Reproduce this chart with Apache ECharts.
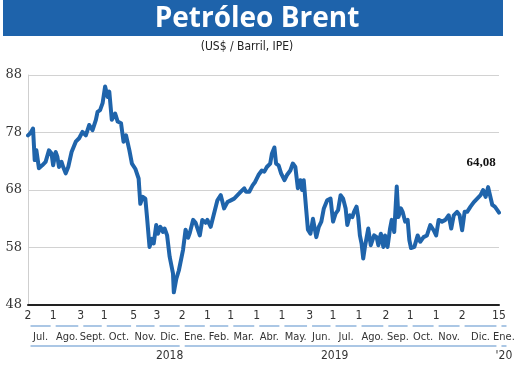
<!DOCTYPE html>
<html>
<head>
<meta charset="utf-8">
<script src="https://cdn.jsdelivr.net/npm/echarts@6/dist/echarts.min.js"></script>
<style>
html,body{margin:0;padding:0;background:#fff;}
#c{width:520px;height:365px;}
</style>
</head>
<body>
<div id="c"></div>
<script>
// ---------------- DATA ----------------
const dates = [
'2018-07-02','2018-07-05','2018-07-08','2018-07-10','2018-07-12','2018-07-15','2018-07-19','2018-07-23','2018-07-27','2018-07-30',
'2018-08-01','2018-08-04','2018-08-06','2018-08-08','2018-08-11','2018-08-13','2018-08-16','2018-08-19','2018-08-23','2018-08-28',
'2018-09-01','2018-09-05','2018-09-09','2018-09-13','2018-09-17','2018-09-21','2018-09-23','2018-09-26','2018-09-29','2018-10-02',
'2018-10-05','2018-10-07','2018-10-10','2018-10-14','2018-10-17','2018-10-21','2018-10-24','2018-10-27','2018-10-31','2018-11-03',
'2018-11-07','2018-11-11','2018-11-13','2018-11-16','2018-11-19','2018-11-21','2018-11-24','2018-11-27','2018-11-29','2018-12-02',
'2018-12-04','2018-12-07','2018-12-10','2018-12-12','2018-12-15','2018-12-18','2018-12-22','2018-12-23','2018-12-26','2018-12-29',
'2019-01-03','2019-01-06','2019-01-09','2019-01-11','2019-01-15','2019-01-18','2019-01-23','2019-01-26','2019-01-30','2019-02-01',
'2019-02-05','2019-02-09','2019-02-13','2019-02-17','2019-02-21','2019-02-25','2019-03-01','2019-03-05','2019-03-09','2019-03-13',
'2019-03-17','2019-03-19','2019-03-23','2019-03-27','2019-03-30','2019-04-03','2019-04-07','2019-04-10','2019-04-13','2019-04-17',
'2019-04-19','2019-04-22','2019-04-24','2019-04-27','2019-04-30','2019-05-04','2019-05-07','2019-05-11','2019-05-14','2019-05-17',
'2019-05-20','2019-05-23','2019-05-25','2019-05-27','2019-05-30','2019-06-01','2019-06-04','2019-06-07','2019-06-11','2019-06-14',
'2019-06-17','2019-06-20','2019-06-24','2019-06-28','2019-07-01','2019-07-04','2019-07-07','2019-07-10','2019-07-13','2019-07-16',
'2019-07-18','2019-07-21','2019-07-24','2019-07-26','2019-07-29','2019-07-31','2019-08-02','2019-08-04','2019-08-06','2019-08-08',
'2019-08-12','2019-08-15','2019-08-19','2019-08-22','2019-08-24','2019-08-27','2019-08-30','2019-09-01','2019-09-04','2019-09-07',
'2019-09-09','2019-09-12','2019-09-13','2019-09-15','2019-09-17','2019-09-20','2019-09-22','2019-09-25','2019-09-28','2019-09-30',
'2019-10-02','2019-10-06','2019-10-10','2019-10-13','2019-10-17','2019-10-21','2019-10-25','2019-10-29','2019-11-01','2019-11-04',
'2019-11-08','2019-11-12','2019-11-16','2019-11-19','2019-11-22','2019-11-26','2019-11-29','2019-12-02','2019-12-05','2019-12-08',
'2019-12-12','2019-12-16','2019-12-20','2019-12-24','2019-12-27','2019-12-29','2019-12-30','2020-01-02','2020-01-04','2020-01-07',
'2020-01-10','2020-01-13','2020-01-15'
];
const brent = [
77.5,77.9,78.7,73.2,74.9,71.8,72.3,72.9,74.9,74.4,
72.3,74.6,73.8,72.0,72.9,72.0,70.9,72.0,74.6,76.4,
77.0,78.1,77.5,79.3,78.4,80.2,81.6,81.9,83.1,86.0,
84.2,85.1,80.2,81.3,79.9,79.6,76.4,77.5,74.9,72.6,
71.7,70.0,65.6,66.8,66.5,63.3,58.1,59.5,58.7,61.9,
60.4,61.6,60.7,61.3,60.1,56.4,53.5,50.2,52.6,54.0,
57.6,61.1,59.7,60.5,62.8,62.3,60.1,62.8,62.3,62.8,
61.6,63.9,66.2,67.1,64.8,65.9,66.2,66.5,67.1,67.7,
68.3,67.7,67.7,68.8,69.4,70.6,71.4,71.2,72.0,72.6,
74.3,75.4,72.6,72.3,70.9,69.7,70.6,71.4,72.6,72.0,
68.3,69.7,68.0,69.7,64.5,61.1,60.4,63.0,59.8,61.6,
62.5,64.8,66.2,66.5,62.5,63.9,64.5,67.1,66.5,64.8,
61.9,63.6,63.3,64.2,65.1,63.3,60.1,58.7,56.1,58.1,
61.3,58.4,60.1,59.8,58.4,60.4,58.1,60.1,58.1,61.3,
62.8,60.7,60.4,68.6,63.3,64.8,64.2,62.5,62.8,59.3,
57.9,58.1,60.1,59.0,59.8,60.1,61.9,61.0,60.1,62.8,
62.5,62.8,63.6,61.3,63.6,64.2,63.6,61.0,64.2,64.2,
65.1,65.9,66.5,67.1,68.0,68.3,66.8,68.5,68.8,65.4,
65.1,64.5,64.08
];
const yTicks = [48, 58, 68, 78, 88];
const dayTickDates = ['2018-07-02','2018-08-01','2018-09-03','2018-10-01','2018-11-05','2018-12-03','2019-01-02','2019-02-01','2019-03-01','2019-04-01','2019-05-01','2019-06-03','2019-07-01','2019-08-01','2019-09-02','2019-10-01','2019-11-01','2019-12-02','2020-01-15'];
const dayTickLabels = ['2','1','3','1','5','3','2','1','1','1','1','3','1','1','2','1','1','2','15'];
const monthNames = ['Jul.','Ago.','Sept.','Oct.','Nov.','Dic.','Ene.','Feb.','Mar.','Abr.','May.','Jun.','Jul.','Ago.','Sep.','Oct.','Nov.','Dic.','Ene.'];
const labelAxisEnd = '2020-01-27';
const yearNames = ['2018', '2019', "'20"];
const yearLabelDates = ['2018-12-18', '2019-07-03', '2020-01-21'];
const yearBounds = ['2018-07-02', '2019-01-02', '2020-01-15', '2020-01-27'];

// ---------------- LAYOUT ----------------
const P = s => echarts.number.parseDate(s).getTime();
const DAY = 86400000;
const GAP = 3 * DAY;
const ROW_DAY = 11, ROW_DASH = 21, ROW_MONTH = 32, ROW_YLINE = 41, ROW_YEAR = 51;
const BLUE = '#1f64ab';
const DASH = '#8fb5dc';
const narrow = '"Liberation Sans Narrow","DejaVu Sans Condensed","Open Sans",sans-serif';

const bounds = dayTickDates.concat([labelAxisEnd]);
const monthSegs = monthNames.map((m, i) => ({coords: [[P(bounds[i]) + GAP, ROW_DASH], [P(bounds[i + 1]) - GAP, ROW_DASH]]}));
const yearSegs = yearNames.map((y, i) => ({coords: [[P(yearBounds[i]) + GAP, ROW_YLINE], [P(yearBounds[i + 1]) - GAP, ROW_YLINE]]}));

const dayLabelPos = dayTickDates.map(d => [P(d), ROW_DAY]);
const monthLabelPos = monthNames.map((m, i) => [(P(bounds[i]) + P(bounds[i + 1])) / 2, ROW_MONTH]);
const yearLabelPos = yearNames.map((y, i) => [P(yearLabelDates[i]), ROW_YEAR]);

const last = brent.length - 1;
const lastLabel = brent[last].toFixed(2).replace('.', ',');

const chart = echarts.init(document.getElementById('c'), null, {renderer: 'canvas'});

const textSeries = (pos, texts, size) => ({
  type: 'custom', xAxisIndex: 1, yAxisIndex: 1, silent: true, clip: false,
  data: pos,
  renderItem: (params, api) => {
    const pt = api.coord([api.value(0), api.value(1)]);
    return {
      type: 'text', x: pt[0], y: pt[1],
      style: {text: texts[params.dataIndex], fill: '#333', font: size + 'px ' + narrow,
              align: 'center', verticalAlign: 'middle', textAlign: 'center', textVerticalAlign: 'middle'}
    };
  }
});
const segLines = (data) => ({
  type: 'lines', coordinateSystem: 'cartesian2d', xAxisIndex: 1, yAxisIndex: 1, silent: true,
  data: data, lineStyle: {color: DASH, width: 1.5, opacity: 1}, symbol: 'none'
});

chart.setOption({
  animation: false,
  backgroundColor: '#fff',
  graphic: [
    {type: 'rect', left: 3, top: 0, shape: {width: 500, height: 36}, style: {fill: '#1e63ab'}, silent: true},
    {type: 'text', x: 257, y: 19, style: {text: 'Petróleo Brent', fill: '#fff', font: 'bold 28px "Open Sans", "Noto Sans", sans-serif', textAlign: 'center', textVerticalAlign: 'middle', align: 'center', verticalAlign: 'middle'}},
    {type: 'text', x: 247, y: 47, style: {text: '(US$ / Barril, IPE)', fill: '#222', font: '12px ' + narrow, textAlign: 'center', textVerticalAlign: 'middle', align: 'center', verticalAlign: 'middle'}}
  ],
  grid: [
    {left: 28, right: 21, top: 75, bottom: 60},
    {left: 28, right: 11, top: 305, height: 60}
  ],
  xAxis: [
    {type: 'time', gridIndex: 0, min: P(dates[0]), max: P(dates[last]),
     axisLine: {show: true, onZero: false, lineStyle: {color: '#222', width: 2}},
     axisTick: {show: false}, axisLabel: {show: false}, splitLine: {show: false}},
    {type: 'time', gridIndex: 1, min: P(dates[0]), max: P(labelAxisEnd), show: false}
  ],
  yAxis: [
    {type: 'value', gridIndex: 0, min: yTicks[0], max: yTicks[yTicks.length - 1], interval: yTicks[1] - yTicks[0],
     axisLine: {show: true, lineStyle: {color: '#cfcfcf', width: 1}},
     axisTick: {show: false},
     axisLabel: {color: '#333', fontSize: 13, fontFamily: '"DejaVu Serif", serif', margin: 6},
     splitLine: {lineStyle: {color: '#d2d2d2', width: 1}}},
    {type: 'value', gridIndex: 1, min: 0, max: 60, inverse: true, show: false}
  ],
  series: [
    {
      type: 'line', xAxisIndex: 0, yAxisIndex: 0, showSymbol: false, symbol: 'none',
      data: dates.map((d, i) => [d, brent[i]]),
      lineStyle: {color: BLUE, width: 4, join: 'round', cap: 'round'},
      itemStyle: {color: BLUE},
      emphasis: {disabled: true},
      markPoint: {
        symbol: 'circle', symbolSize: 0, silent: true,
        data: [{coord: [dates[last], brent[last]], value: brent[last]}],
        label: {show: true, position: 'top', offset: [-18, -38], formatter: lastLabel,
                fontFamily: '"Liberation Serif", serif', fontWeight: 'bold', fontSize: 13, color: '#111'}
      }
    },
    textSeries(dayLabelPos, dayTickLabels, 12),
    textSeries(monthLabelPos, monthNames, 11),
    textSeries(yearLabelPos, yearNames, 12),
    segLines(monthSegs),
    segLines(yearSegs)
  ]
});
</script>
</body>
</html>
